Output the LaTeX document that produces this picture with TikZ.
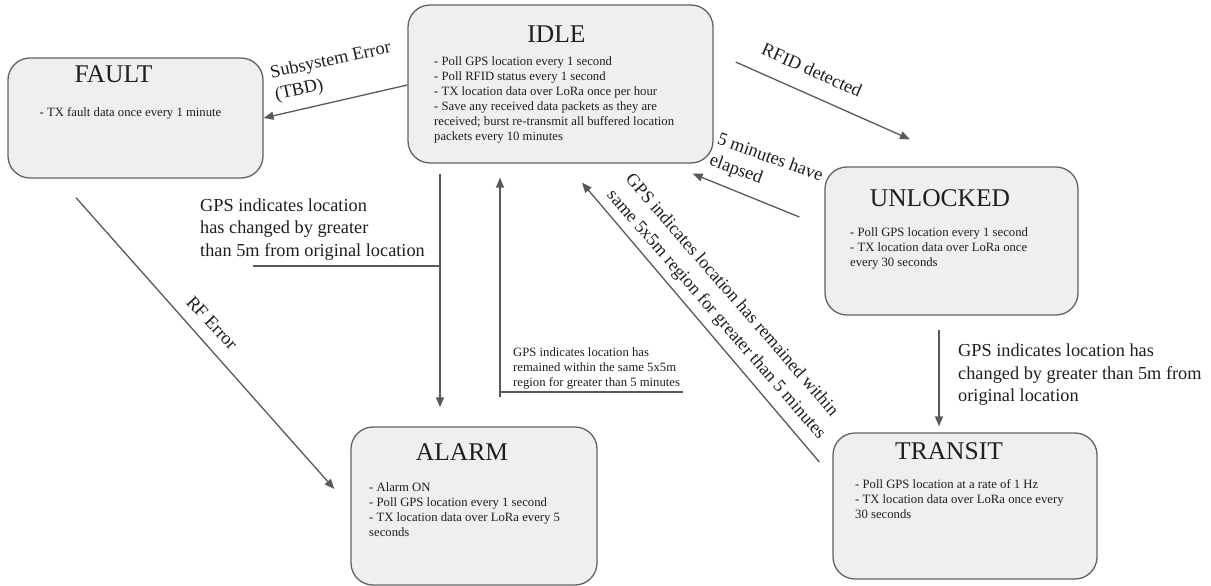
\documentclass[tikz,border=0pt]{standalone}
\usepackage{fontspec}
\setmainfont{Liberation Serif}
\usetikzlibrary{arrows.meta,calc}
\definecolor{boxfill}{HTML}{EFEFEF}
\definecolor{boxline}{HTML}{636363}
\definecolor{arrowc}{HTML}{595959}
\definecolor{txt}{HTML}{1E1E1E}
\begin{document}
\begin{tikzpicture}[x=1pt,y=-1pt,
  box/.style={draw=boxline, fill=boxfill, rounded corners=22pt, line width=1.3pt, inner sep=0pt},
  title/.style={font=\fontsize{25.5}{30}\selectfont, anchor=base, inner sep=0pt, text=txt},
  body/.style={font=\fontsize{12.7}{15}\selectfont, align=left, anchor=west, inner sep=0pt, text=txt},
  elabel/.style={font=\fontsize{18.3}{22.5}\selectfont, align=left, inner sep=0pt, text=txt},
  arr/.style={draw=arrowc, line width=1.3pt, -{Triangle[length=10pt,width=8pt]}},
  plain/.style={draw=arrowc, line width=1.3pt}]
\useasboundingbox (0,0) rectangle (1211,586);

% boxes
\node[box, minimum width=305pt, minimum height=158pt] (idle) at (560.5,84) {};
\node[box, minimum width=255pt, minimum height=120pt] (fault) at (135.5,118) {};
\node[box, minimum width=253pt, minimum height=148pt] (unlocked) at (951.5,241) {};
\node[box, minimum width=264pt, minimum height=146pt] (transit) at (965,506) {};
\node[box, minimum width=246pt, minimum height=158pt] (alarm) at (474,506) {};

% titles
\node[title] (idleT) at (556.5,43) {IDLE};
\node[title] (faultT) at (113.5,83) {FAULT};
\node[title] (unlockedT) at (940,206) {UNLOCKED};
\node[title] (transitT) at (949,459) {TRANSIT};
\node[title] (alarmT) at (462,460) {ALARM};

% bodies
\node[body] (idleB) at (434,99.5) {- Poll GPS location every 1 second\\
- Poll RFID status every 1 second\\
- TX location data over LoRa once per hour\\
- Save any received data packets as they are\\
received; burst re-transmit all buffered location\\
packets every 10 minutes};
\node[body, anchor=center] (faultB) at (130.5,113) {- TX fault data once every 1 minute};
\node[body] (unlockedB) at (850,248.5) {- Poll GPS location every 1 second\\
- TX location data over LoRa once\\
every 30 seconds};
\node[body] (transitB) at (855,499) {- Poll GPS location at a rate of 1 Hz\\
- TX location data over LoRa once every\\
30 seconds};
\node[body] (alarmB) at (369,510) {- Alarm ON\\
- Poll GPS location every 1 second\\
- TX location data over LoRa every 5\\
seconds};

% connector end points
\coordinate (fA) at ($(idle.south)+(-120.5,10)$);
\coordinate (eA) at ($(alarm.north)+(26,-29)$);

% connectors
\draw[arr] ($(idle.west)+(0,1)$) -- (fault.east);
\draw[arr] ($(idle.east)+(22,-22)$) -- ($(unlocked.north)+(-41.5,-27)$);
\draw[arr] ($(unlocked.west)+(-25,-24)$) -- ($(idle.south east)+(-21,10)$);
\draw[arr] ($(transit.west)+(-13,-44)$) -- ($(idle.south)+(21.5,19)$);
\draw[arr] (eA) -- ($(idle.south)+(-60.5,14)$);
\draw[arr] (fA) -- ($(alarm.north)+(-34,-19)$);
\draw[arr] ($(fault.south)+(-59.5,19)$) -- ($(alarm.west)+(-16,-17)$);
\draw[arr] ($(unlocked.south)+(-12.5,14)$) -- ($(transit.north)+(-26,-6)$);

% label underlines
\coordinate (lineL) at (253,266);
\coordinate (lineM) at (683,392);
\draw[plain] (lineL) -- (lineL -| fA);
\draw[plain] (lineM) -- (lineM -| eA);

% connector labels
\node[elabel, rotate=12] (lSub) at (333,72) {Subsystem Error\\(TBD)};
\node[elabel, rotate=-24] (lRfid) at (812,70) {RFID detected};
\node[elabel, rotate=-20] (l5min) at (766,169) {5 minutes have\\elapsed};
\node[elabel, rotate=-49, font=\fontsize{18}{24.5}\selectfont] (lDiag) at (725,307) {GPS indicates location has remained within\\same 5x5m region for greater than 5 minutes};
\node[elabel, rotate=-47] (lRF) at (212,323) {RF Error};
\node[elabel, anchor=west] (lLeft) at (200,229.5) {GPS indicates location\\has changed by greater\\than 5m from original location};
\node[elabel, anchor=west] (lRight) at (958,375) {GPS indicates location has\\changed by greater than 5m from\\original location};
\node[body] (lMid) at (513,368) {GPS indicates location has\\remained within the same 5x5m\\region for greater than 5 minutes};
\end{tikzpicture}
\end{document}
